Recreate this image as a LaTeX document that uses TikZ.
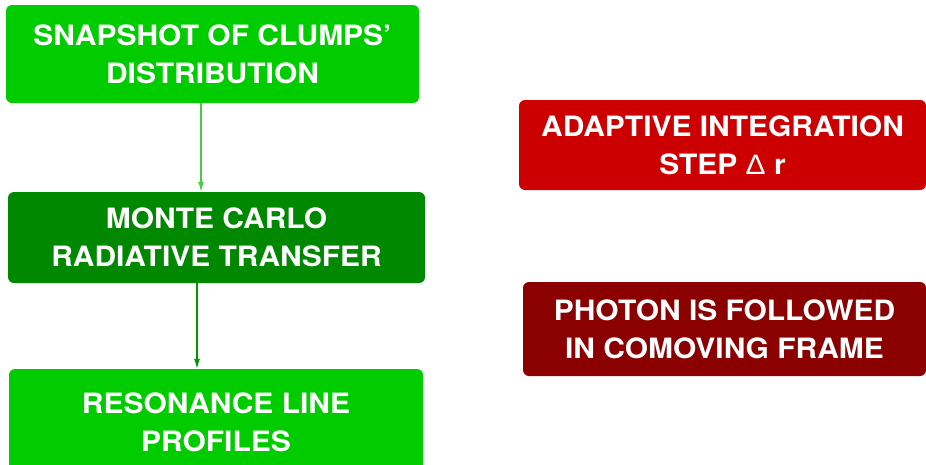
\documentclass[tikz,border=0pt]{standalone}
\usepackage{fontspec}
\setmainfont[FakeStretch=1.07]{TeX Gyre Heros}
\newfontfamily\deltafont[FakeStretch=1.07]{Liberation Sans}
\usetikzlibrary{arrows.meta}
\definecolor{lgreen}{HTML}{00CC00}
\definecolor{dgreen}{HTML}{008800}
\definecolor{lred}{HTML}{CC0000}
\definecolor{dred}{HTML}{8B0000}
\definecolor{arrA}{HTML}{44CC44}
\definecolor{arrB}{HTML}{009900}
\begin{document}
\begin{tikzpicture}[x=1pt,y=-1pt,
  box/.style={rounded corners=6pt, inner sep=0pt, align=center, text=white,
    font=\fontsize{28}{38}\selectfont\bfseries},
  flow/.style={line width=1.2pt, -{Latex[length=10pt,width=6pt]}}]
\useasboundingbox (0,0) rectangle (926,464);
\node[box, fill=lgreen, minimum width=413pt, minimum height=98pt] (b1) at (212.5,54)
  {SNAPSHOT OF CLUMPS’\\DISTRIBUTION};
\node[box, fill=dgreen, minimum width=417pt, minimum height=91pt] (b2) at (216.5,237.5)
  {MONTE CARLO\\RADIATIVE TRANSFER};
\node[box, fill=lgreen, minimum width=414pt, minimum height=106pt] (b3) at (216,422)
  {RESONANCE LINE\\PROFILES};
\node[box, fill=lred, minimum width=407pt, minimum height=90pt] (b4) at (722.5,145)
  {ADAPTIVE INTEGRATION\\STEP {\deltafont\mdseries Δ} r};
\node[box, fill=dred, minimum width=403pt, minimum height=94pt] (b5) at (724.5,329)
  {PHOTON IS FOLLOWED\\IN COMOVING FRAME};
\coordinate (a1) at (201,0);
\coordinate (a2) at (197,0);
\draw[flow, draw=arrA] (a1 |- b1.south) -- (a1 |- b2.north);
\draw[flow, draw=arrB] (a2 |- b2.south) -- (a2 |- b3.north);
\end{tikzpicture}
\end{document}
